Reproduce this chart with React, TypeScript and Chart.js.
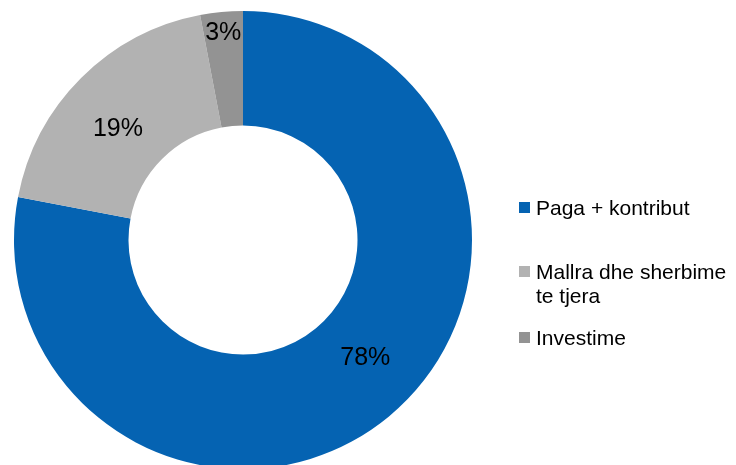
import React, { useEffect, useRef } from "react";
import { Chart, registerables } from "chart.js";

Chart.register(...registerables);

const categories = ["Paga + kontribut", "Mallra dhe sherbime te tjera", "Investime"];
const values = [78, 19, 3];
const colors = ["#0563B2", "#B2B2B2", "#939393"];

const FONT = '"Liberation Sans", Arial, sans-serif';

const sliceLabels = {
  id: "sliceLabels",
  afterDatasetsDraw(chart: any, _args: any, opts: any) {
    const ctx = chart.ctx;
    const meta = chart.getDatasetMeta(0);
    const ds = chart.data.datasets[0];
    ctx.save();
    ctx.fillStyle = "#000";
    ctx.font = `${opts.size}px ${FONT}`;
    ctx.textAlign = "center";
    ctx.textBaseline = "alphabetic";
    meta.data.forEach((arc: any, i: number) => {
      const p = arc.getProps(["x", "y", "startAngle", "endAngle", "innerRadius", "outerRadius"], true);
      const pl = opts.placement[i];
      const mid = (p.startAngle + p.endAngle) / 2 + (pl.shift * Math.PI) / 180;
      const r = p.innerRadius + pl.f * (p.outerRadius - p.innerRadius);
      const px = p.x + Math.cos(mid) * r;
      const py = p.y + Math.sin(mid) * r;
      ctx.fillText(`${ds.data[i]}%`, px, py + opts.size * 0.358);
    });
    ctx.restore();
  },
};

const sideLegend = {
  id: "sideLegend",
  afterDraw(chart: any, _args: any, opts: any) {
    const ctx = chart.ctx;
    const labels: string[] = chart.data.labels;
    const bg: string[] = chart.data.datasets[0].backgroundColor;
    ctx.save();
    ctx.font = `${opts.size}px ${FONT}`;
    ctx.textAlign = "left";
    ctx.textBaseline = "alphabetic";
    labels.forEach((label, i) => {
      const words = label.split(" ");
      const lines: string[] = [];
      let cur = "";
      words.forEach((w) => {
        const t = cur ? cur + " " + w : w;
        if (ctx.measureText(t).width > opts.maxWidth && cur) {
          lines.push(cur);
          cur = w;
        } else cur = t;
      });
      if (cur) lines.push(cur);
      const base = opts.baselines[i];
      const capMid = base - opts.size * 0.358;
      ctx.fillStyle = bg[i];
      ctx.fillRect(opts.boxX, Math.round(capMid - opts.box / 2), opts.box, opts.box);
      ctx.fillStyle = "#000";
      lines.forEach((ln, j) => {
        ctx.fillText(ln, opts.textX, base + j * opts.lineHeight);
      });
    });
    ctx.restore();
  },
};

export default function App() {
  const ref = useRef<HTMLCanvasElement>(null);
  useEffect(() => {
    if (!ref.current) return;
    const chart = new Chart(ref.current, {
      type: "doughnut",
      data: {
        labels: categories,
        datasets: [
          {
            data: values,
            backgroundColor: colors,
            borderWidth: 0,
          },
        ],
      },
      options: {
        responsive: false,
        animation: false,
        cutout: "50%",
        rotation: 0,
        layout: { padding: { left: 14, right: 264, top: 11, bottom: 11 } },
        plugins: {
          legend: { display: false },
          tooltip: { enabled: false },
          sliceLabels: {
            size: 25,
            placement: [
              { shift: -7, f: 0.47 },
              { shift: -3, f: 0.47 },
              { shift: 0, f: 0.83 },
            ],
          },
          sideLegend: {
            size: 21,
            boxX: 519,
            box: 11,
            textX: 536,
            maxWidth: 195,
            lineHeight: 24,
            baselines: [215, 279, 345],
          },
        } as any,
      },
      plugins: [sliceLabels, sideLegend],
    });
    return () => chart.destroy();
  }, []);
  return (
    <div style={{ position: "fixed", left: 0, top: 0, width: 736, height: 465, overflow: "hidden", background: "#fff" }}>
      <canvas ref={ref} width={736} height={480} style={{ display: "block" }} />
    </div>
  );
}
